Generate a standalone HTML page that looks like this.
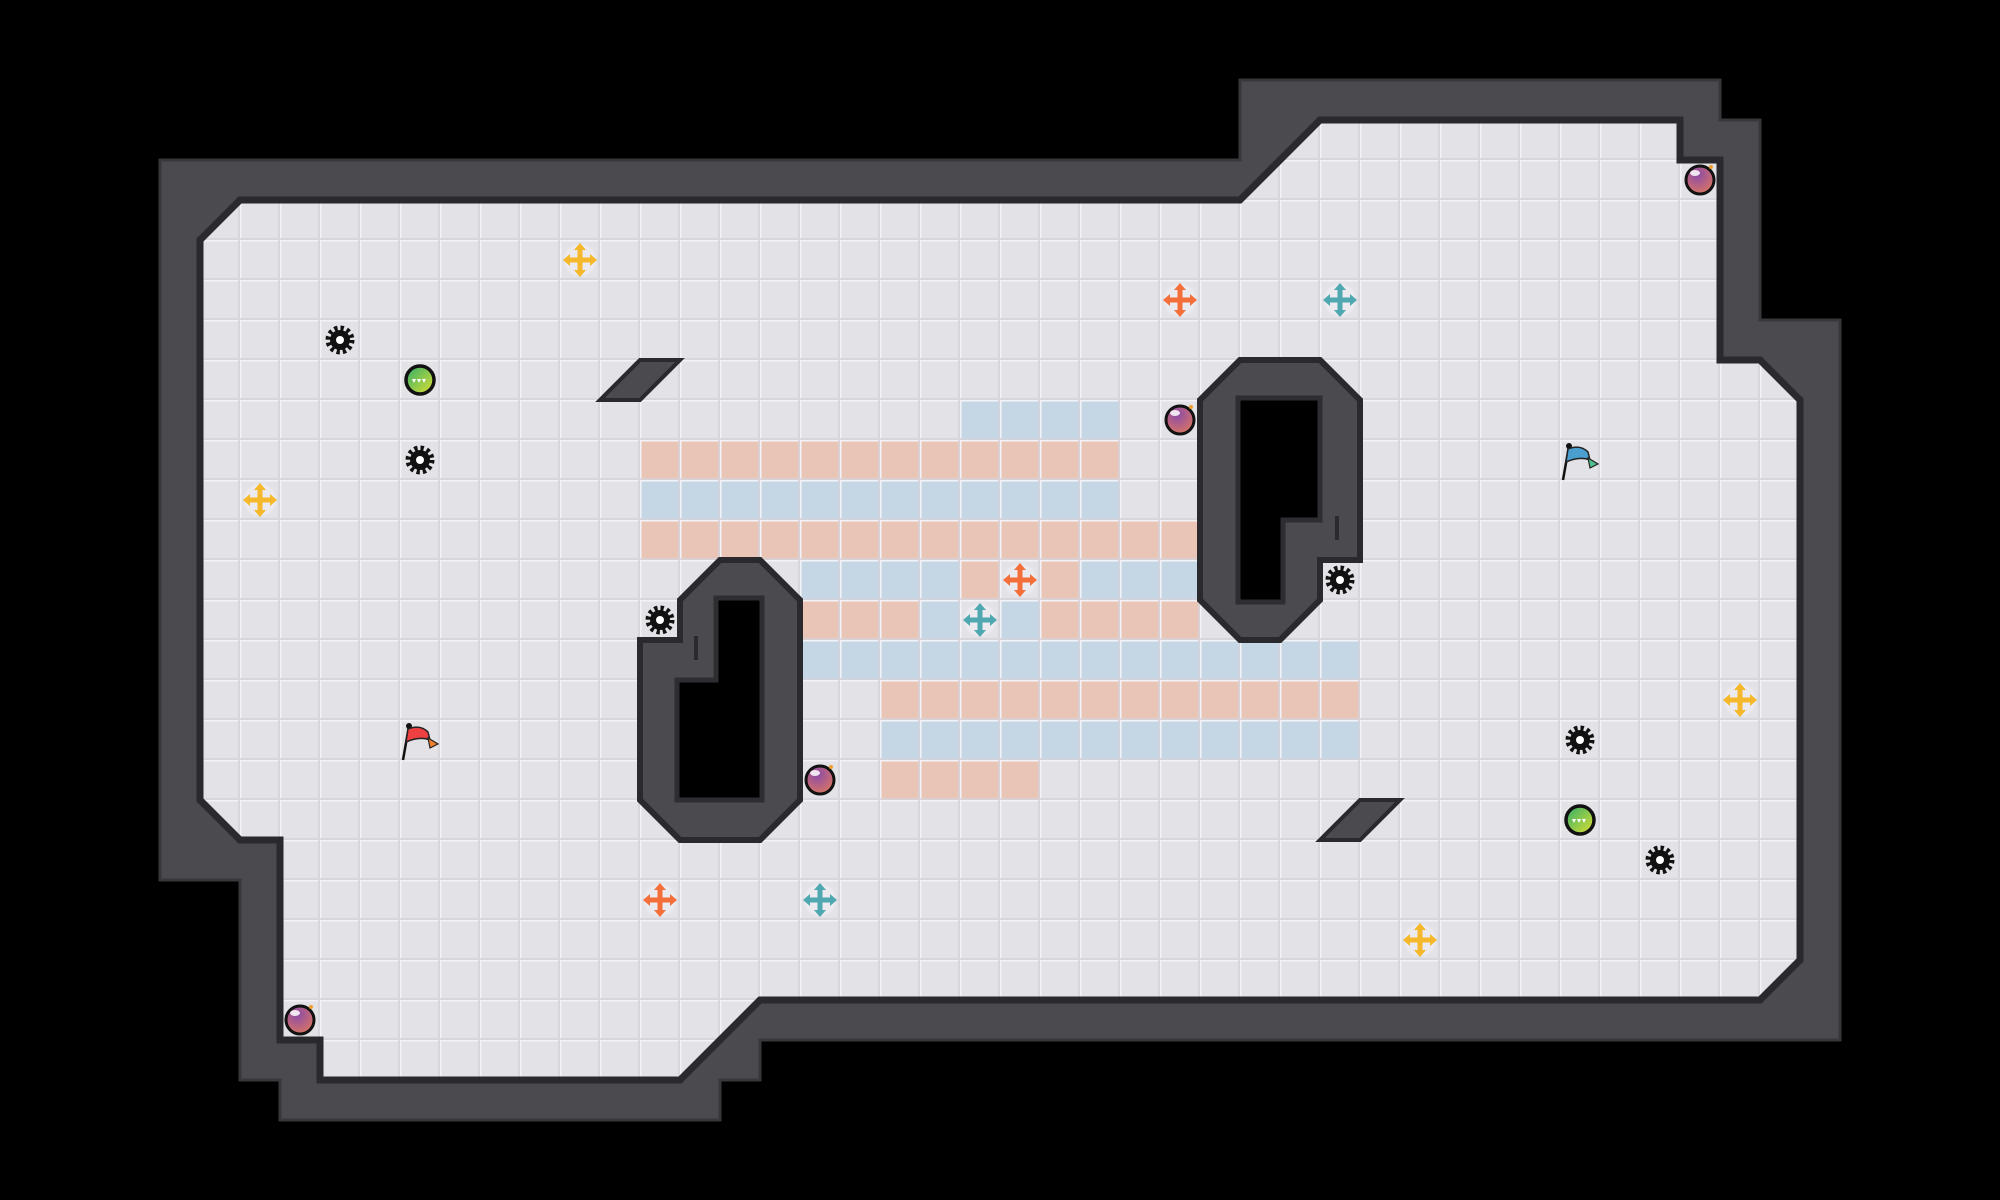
<!DOCTYPE html>
<html><head><meta charset="utf-8"><style>html,body{margin:0;padding:0;background:#000;}svg{display:block}</style></head>
<body>
<svg width="2000" height="1200" viewBox="0 0 2000 1200" xmlns="http://www.w3.org/2000/svg">
<defs>
<pattern id="grid" width="40" height="40" patternUnits="userSpaceOnUse">
<path d="M0 0.5H40M0.5 0V40" stroke="#f3f2f6" stroke-width="2" fill="none"/>
<path d="M0 39H40M39 0V40" stroke="#d4d3d9" stroke-width="2" fill="none" opacity="0.8"/>
</pattern>
<radialGradient id="bomb" cx="0.4" cy="0.3" r="0.8"><stop offset="0" stop-color="#8d4aa8"/><stop offset="1" stop-color="#e07a5c"/></radialGradient>
<linearGradient id="gball" x1="0" y1="0" x2="1" y2="1"><stop offset="0" stop-color="#2fae6a"/><stop offset="1" stop-color="#e0e030"/></linearGradient>
<g id="gear"><circle r="10" fill="#111"/><circle r="12" fill="none" stroke="#111" stroke-width="5" stroke-dasharray="3.3 3"/><circle r="4" fill="#fff"/></g>
<g id="cross"><circle r="16" fill="#ececf0" opacity="0.8"/>
<path d="M-12 0H12M0 -12V12" stroke="currentColor" stroke-width="5"/>
<path d="M-17 0L-10 -6L-10 6ZM17 0L10 -6L10 6ZM0 -17L-6 -10L6 -10ZM0 17L-6 10L6 10Z" fill="currentColor"/></g>
<g id="bombi"><circle r="14" fill="url(#bomb)" stroke="#111" stroke-width="3"/><ellipse cx="-5" cy="-7" rx="5" ry="3" fill="#fff" opacity="0.85"/><circle cx="11" cy="-13" r="2" fill="#f0a030"/></g>
<g id="ball"><circle r="14" fill="url(#gball)" stroke="#111" stroke-width="3.5"/><path d="M-8 -1L-4 -1L-6 3ZM-3 -1L1 -1L-1 3ZM2 -1L6 -1L4 3Z" fill="#fff"/></g>
</defs>
<rect width="2000" height="1200" fill="#000"/>
<!-- outer wall -->
<polygon points="160,160 1240,160 1240,80 1720,80 1720,120 1760,120 1760,320 1840,320 1840,1040 760,1040 760,1080 720,1080 720,1120 280,1120 280,1080 240,1080 240,880 160,880" fill="#4b4a4f" stroke="#38373b" stroke-width="3"/>
<!-- floor -->
<polygon id="fl" points="200,240 240,200 1240,200 1320,120 1680,120 1680,160 1720,160 1720,360 1760,360 1800,400 1800,960 1760,1000 760,1000 680,1080 320,1080 320,1040 280,1040 280,840 240,840 200,800" fill="#e3e2e7"/>
<g fill="#e8c5b7">
<rect x="640" y="440" width="480" height="40"/>
<rect x="640" y="520" width="560" height="40"/>
<rect x="960" y="560" width="40" height="40"/>
<rect x="1040" y="560" width="40" height="40"/>
<rect x="800" y="600" width="120" height="40"/>
<rect x="1040" y="600" width="160" height="40"/>
<rect x="880" y="680" width="480" height="40"/>
<rect x="880" y="760" width="160" height="40"/>
</g>
<g fill="#c5d7e5">
<rect x="960" y="400" width="160" height="40"/>
<rect x="640" y="480" width="480" height="40"/>
<rect x="800" y="560" width="160" height="40"/>
<rect x="1080" y="560" width="120" height="40"/>
<rect x="920" y="600" width="40" height="40"/>
<rect x="1000" y="600" width="40" height="40"/>
<rect x="800" y="640" width="560" height="40"/>
<rect x="880" y="720" width="480" height="40"/>
</g>
<polygon points="200,240 240,200 1240,200 1320,120 1680,120 1680,160 1720,160 1720,360 1760,360 1800,400 1800,960 1760,1000 760,1000 680,1080 320,1080 320,1040 280,1040 280,840 240,840 200,800" fill="url(#grid)" stroke="#2a292d" stroke-width="7"/>
<!-- obstacles -->
<polygon points="720,560 760,560 800,600 800,800 760,840 680,840 640,800 640,640 680,640 680,600" fill="#4b4a4f" stroke="#2a292d" stroke-width="6"/>
<polygon points="716,598 762,598 762,800 677,800 677,680 716,680" fill="#000" stroke="#2e2d31" stroke-width="5"/>
<rect x="694" y="636" width="4" height="24" fill="#2a292d"/>
<polygon points="1240,360 1320,360 1360,400 1360,560 1320,560 1320,600 1280,640 1240,640 1200,600 1200,400" fill="#4b4a4f" stroke="#2a292d" stroke-width="6"/>
<polygon points="1238,398 1320,398 1320,520 1283,520 1283,602 1238,602" fill="#000" stroke="#2e2d31" stroke-width="5"/>
<rect x="1335" y="516" width="4" height="24" fill="#2a292d"/>
<!-- ramps -->
<polygon points="640,360 680,360 640,400 600,400" fill="#4b4a4f" stroke="#2a292d" stroke-width="4"/>
<polygon points="1360,800 1400,800 1360,840 1320,840" fill="#4b4a4f" stroke="#2a292d" stroke-width="4"/>
<!-- items -->
<use href="#cross" x="580" y="260" style="color:#f5b82a"/>
<use href="#cross" x="260" y="500" style="color:#f5b82a"/>
<use href="#cross" x="1740" y="700" style="color:#f5b82a"/>
<use href="#cross" x="1420" y="940" style="color:#f5b82a"/>
<use href="#cross" x="1180" y="300" style="color:#f36f3a"/>
<use href="#cross" x="1020" y="580" style="color:#f36f3a"/>
<use href="#cross" x="660" y="900" style="color:#f36f3a"/>
<use href="#cross" x="1340" y="300" style="color:#4fa8b0"/>
<use href="#cross" x="980" y="620" style="color:#4fa8b0"/>
<use href="#cross" x="820" y="900" style="color:#4fa8b0"/>
<use href="#gear" x="340" y="340"/>
<use href="#gear" x="420" y="460"/>
<use href="#gear" x="660" y="620"/>
<use href="#gear" x="1340" y="580"/>
<use href="#gear" x="1580" y="740"/>
<use href="#gear" x="1660" y="860"/>
<use href="#ball" x="420" y="380"/>
<use href="#ball" x="1580" y="820"/>
<use href="#bombi" x="1700" y="180"/>
<use href="#bombi" x="1180" y="420"/>
<use href="#bombi" x="820" y="780"/>
<use href="#bombi" x="300" y="1020"/>
<!-- flags -->
<g>
<line x1="403" y1="760" x2="409" y2="726" stroke="#111" stroke-width="2.5"/>
<circle cx="409" cy="726" r="3" fill="#111"/>
<path d="M408 729 Q420 724 428 732 L430 740 Q420 736 406 742 Z" fill="#ee4040" stroke="#222" stroke-width="1.5"/>
<path d="M428 738 L438 744 L430 748 Z" fill="#f08030" stroke="#222" stroke-width="1.2"/>
</g>
<g>
<line x1="1563" y1="480" x2="1569" y2="446" stroke="#111" stroke-width="2.5"/>
<circle cx="1569" cy="446" r="3" fill="#111"/>
<path d="M1568 449 Q1580 444 1588 452 L1590 460 Q1580 456 1566 462 Z" fill="#4a9fd0" stroke="#222" stroke-width="1.5"/>
<path d="M1588 458 L1598 464 L1590 468 Z" fill="#50c090" stroke="#222" stroke-width="1.2"/>
</g>
</svg>
</body></html>
